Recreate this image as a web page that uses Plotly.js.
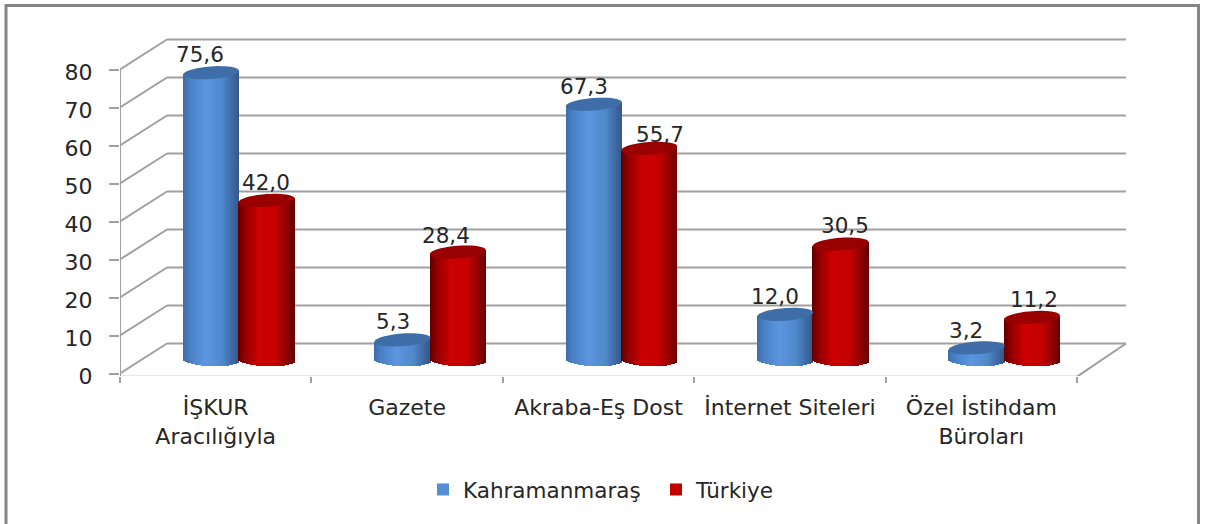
<!DOCTYPE html>
<html>
<head>
<meta charset="utf-8">
<script src="https://cdn.plot.ly/plotly-3.0.1.min.js"></script>
<style>html,body{margin:0;padding:0;background:#fff;overflow:hidden}#chart{width:1206px;height:524px}</style>
</head>
<body>
<div id="chart"></div>
<script>
// ---- data ----
const categories = ["İŞKUR<br>Aracılığıyla", "Gazete", "Akraba-Eş Dost", "İnternet Siteleri", "Özel İstihdam<br>Büroları"];
const kahramanmaras = [75.6, 5.3, 67.3, 12.0, 3.2];
const turkiye = [42.0, 28.4, 55.7, 30.5, 11.2];
const yTicks = [0, 10, 20, 30, 40, 50, 60, 70, 80];

// ---- layout constants (pixels in the 1206x524 picture) ----
const L = 120, R = 1127, T = 37, B = 376, Y0 = 373.5, PXU = 3.8, CAT = 191.4;
const DEPTH_X = 47, DEPTH_Y = 30, FRONT_W = 957;
const dx = p => p / CAT, dy = p => p / PXU;
const xOf = px => -0.5 + (px - L) / CAT;
const yOf = py => (Y0 - py) / PXU;
const paperX = px => (px - L) / (R - L), paperY = py => (B - py) / (B - T);

const lift = dy(13.5), half = 28, shift = 23, HW = 27.7;
const GRID = '#a0a0a0', TXT = '#262626';
const FONT = 'DejaVu Sans';

const mix = (a, b, t) => a.map((v, i) => Math.round(v + (b[i] - v) * t));
const rgb = c => `rgb(${c[0]},${c[1]},${c[2]})`;
function shade(stops, u) {
  for (let i = 1; i < stops.length; i++) {
    if (u <= stops[i][0]) {
      const t = (u - stops[i - 1][0]) / (stops[i][0] - stops[i - 1][0]);
      return rgb(mix(stops[i - 1][1], stops[i][1], t));
    }
  }
  return rgb(stops[stops.length - 1][1]);
}
const blueStops = [[-1, [62, 108, 170]], [-0.75, [74, 128, 196]], [-0.2, [91, 150, 224]], [0.4, [80, 136, 205]], [0.8, [60, 102, 158]], [1, [52, 88, 138]]];
const redStops = [[-1, [92, 0, 0]], [-0.72, [150, 0, 0]], [-0.25, [204, 0, 0]], [0.35, [196, 0, 0]], [0.78, [140, 0, 0]], [1, [105, 0, 0]]];

const traces = [], shapes = [], annotations = [];

function addSeries(name, values, side, legendColor, stops, topColor) {
  const centers = values.map((_, i) => i + dx(shift + side * HW));
  traces.push({
    type: 'bar', name, x: centers, y: values, base: values.map(() => lift),
    width: dx(half * 1.4), marker: { color: legendColor, line: { width: 0 } }, hoverinfo: 'name+y'
  });
  const n = 28, sw = 2 * half / n;
  const xs = [], hs = [], bs = [], cs = [], ws = [];
  values.forEach((v, i) => {
    for (let k = 0; k < n; k++) {
      const u = (k + 0.5 - n / 2) / (n / 2);
      const bottom = lift - dy(6.2 * Math.sqrt(1 - u * u) + 1 * u);
      const top = v + lift + dy(2 * u);
      xs.push(centers[i] + dx(u * half));
      bs.push(bottom);
      hs.push(top - bottom);
      ws.push(dx(sw + 0.4));
      cs.push(shade(stops, u));
    }
  });
  traces.push({
    type: 'bar', x: xs, y: hs, base: bs, width: ws, showlegend: false, hoverinfo: 'skip',
    marker: { color: cs, line: { width: 0 } }
  });
  values.forEach((v, i) => {
    let p = '';
    for (let a = 0; a < 48; a++) {
      const t = a / 48 * 2 * Math.PI;
      const X = centers[i] + dx(half * Math.cos(t));
      const Y = v + lift + dy(6.3 * Math.sin(t) + 2 * Math.cos(t));
      p += (a ? 'L' : 'M') + X.toFixed(4) + ',' + Y.toFixed(3);
    }
    shapes.push({ type: 'path', path: p + 'Z', xref: 'x', yref: 'y', fillcolor: topColor, line: { width: 0 }, layer: 'above' });
  });
}

// back wall, side wall and floor
yTicks.forEach(v => {
  const yB = v + dy(DEPTH_Y);
  const base = { type: 'line', xref: 'x', yref: 'y', layer: 'below', line: { color: GRID, width: 2 } };
  shapes.push(Object.assign({}, base, { x0: xOf(L), x1: xOf(L + DEPTH_X), y0: v, y1: yB }));
  shapes.push(Object.assign({}, base, { x0: xOf(L + DEPTH_X), x1: xOf(L + DEPTH_X + FRONT_W + 2), y0: yB, y1: yB }));
});
const axisLine = { type: 'line', xref: 'x', yref: 'y', layer: 'below', line: { color: GRID, width: 2 } };
shapes.push(Object.assign({}, axisLine, { x0: xOf(L), x1: xOf(L), y0: yOf(B + 0.7), y1: 80 }));
shapes.push(Object.assign({}, axisLine, { x0: xOf(L), x1: xOf(L + FRONT_W), y0: yOf(B + 0.7), y1: yOf(B + 0.7) }));
shapes.push(Object.assign({}, axisLine, { x0: xOf(L + FRONT_W), x1: xOf(L + FRONT_W + DEPTH_X + 2), y0: yOf(B + 0.7), y1: dy(DEPTH_Y) }));
// outer frame
shapes.push({
  type: 'path', xref: 'paper', yref: 'paper', layer: 'below',
  path: `M${paperX(6)},${paperY(540)}L${paperX(6)},${paperY(5.5)}L${paperX(1198.5)},${paperY(5.5)}L${paperX(1198.5)},${paperY(540)}`,
  line: { color: '#868686', width: 3 }
});

addSeries('Kahramanmaraş', kahramanmaras, -1, '#558ed5', blueStops, '#3f6da8');
addSeries('Türkiye', turkiye, 1, '#c00000', redStops, '#990000');

// data labels, anchored on the values
const kNudge = [[-11, 18], [-9, 18], [-10, 18], [-10, 18], [-11, 17]];
const tNudge = [[0, 18], [-12, 17], [11, 14], [4, 19], [2, 18]];
function addLabels(values, side, nudge) {
  values.forEach((v, i) => annotations.push({
    x: i + dx(shift + side * HW), y: v + lift, xref: 'x', yref: 'y', showarrow: false,
    text: v.toFixed(1).replace('.', ','), xshift: nudge[i][0], yshift: nudge[i][1],
    font: { family: FONT, size: 21.5, color: TXT }, borderpad: 0
  }));
}
addLabels(kahramanmaras, -1, kNudge);
addLabels(turkiye, 1, tNudge);

const layout = {
  width: 1206, height: 524,
  margin: { l: L, r: 1206 - R, t: T, b: 524 - B, pad: 0 },
  paper_bgcolor: '#fff', plot_bgcolor: 'rgba(0,0,0,0)',
  barmode: 'overlay', showlegend: true, bargap: 0,
  font: { family: FONT, size: 21, color: TXT },
  xaxis: {
    range: [-0.5, xOf(R)], tickmode: 'array', tickvals: categories.map((_, i) => i), ticktext: categories,
    ticks: '', showgrid: false, zeroline: false, showline: false, ticklabelstandoff: 16,
    tickfont: { family: FONT, size: 22, color: TXT },
    minor: { tickmode: 'array', tickvals: [-0.5, 0.5, 1.5, 2.5, 3.5, 4.5], ticks: 'outside', ticklen: 6, tickwidth: 2, tickcolor: GRID, showgrid: false }
  },
  yaxis: {
    range: [yOf(B), yOf(T)], tickmode: 'array', tickvals: yTicks, ticks: 'outside', ticklen: 10, tickwidth: 2,
    tickcolor: GRID, showgrid: false, zeroline: false, showline: false, ticklabelstandoff: 12, ticklabelshift: 3,
    tickfont: { family: FONT, size: 22, color: TXT }
  },
  legend: {
    orientation: 'h', x: paperX(423), y: paperY(469), xanchor: 'left', yanchor: 'top', entrywidth: 188, entrywidthmode: 'pixels',
    font: { family: FONT, size: 21.5, color: TXT }, bgcolor: 'rgba(0,0,0,0)', itemclick: false, itemdoubleclick: false
  },
  shapes, annotations
};
Plotly.newPlot('chart', traces, layout, { displayModeBar: false, staticPlot: true });
</script>
</body>
</html>
